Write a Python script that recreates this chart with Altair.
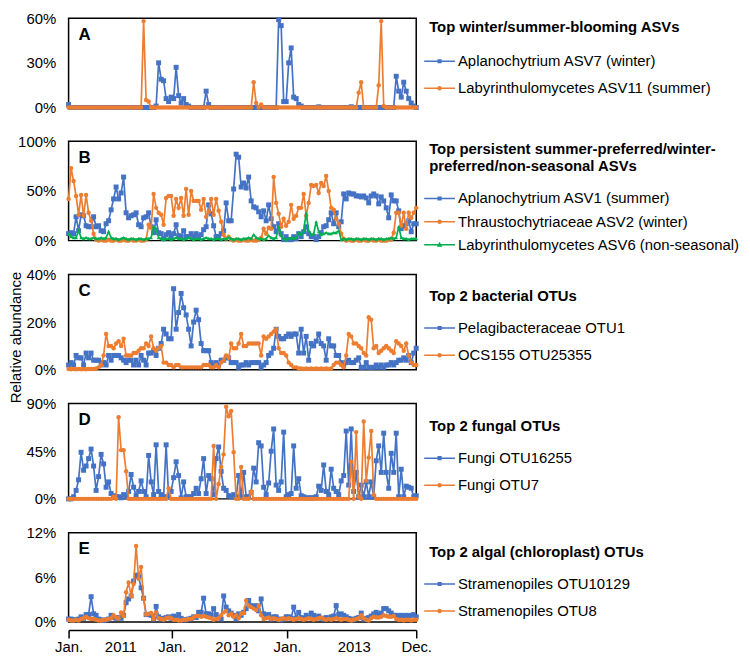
import altair as alt
import pandas as pd

FONT = "Liberation Sans"
BLUE = "#4472C4"
ORANGE = "#ED7D31"
GREEN = "#00B050"
N = 140

# x axis (sample sequence, Jan 2011 - Dec 2013)
x_tick_pos = [0, 20.7, 41.3, 65.1, 87.4, 114, 139]
x_tick_lab = ["Jan.", "2011", "Jan.", "2012", "Jan.", "2013", "Dec."]
x_boundary_pos = [0, 41.3, 87.4, 139]

# ---------------- Panel A ----------------
A_names = ["Aplanochytrium ASV7 (winter)", "Labyrinthulomycetes ASV11 (summer)"]
A_asv7 = [
    2, 0, 0, 0, 0, 0, 0, 0, 0, 0,
    0, 0, 0, 0, 0, 0, 0, 0, 0, 0,
    0, 0, 0, 0, 0, 0, 0, 0, 0, 0,
    0, 0, 0, 0, 0, 1, 30, 19, 18, 6,
    4, 7, 6, 27, 8, 3, 6, 2, 1, 0,
    0, 0, 0, 0, 0, 11, 2, 0, 0, 0,
    0, 0, 0, 0, 0, 0, 0, 0, 0, 0,
    0, 0, 0, 0, 0, 0, 0, 0, 0, 0,
    0, 0, 0, 0, 59, 55, 4, 4, 30, 40,
    7, 6, 2, 1, 0, 0, 0, 0, 0, 0,
    0.5, 0, 0, 0, 0, 0, 0, 0, 0, 0,
    0, 0, 0, 0.5, 0, 0, 0, 0, 0, 0,
    0, 0, 0, 0, 0, 0, 0, 0, 0, 0,
    0, 21, 11, 7, 17, 11, 6, 3, 1, 0,
]
A_asv11 = [
    0, 0, 0, 0, 0, 0, 0, 0, 0, 0,
    0, 0, 0, 0, 0, 0, 0, 0, 0, 0,
    0, 0, 0, 0, 0, 0, 0, 0, 0, 0,
    58, 5, 4, 0, 0, 0, 0, 0, 0, 0,
    0, 0, 0, 0, 0, 0, 0, 0, 0, 0,
    0, 0, 0, 0, 0, 0, 0, 0, 0, 0,
    0, 0, 0, 0, 0, 0, 0, 0, 0, 0,
    0, 0, 0, 0, 17, 3, 0, 2, 0, 0,
    0, 0, 0, 0, 0, 0, 0, 0, 0, 0,
    0, 0, 0, 0, 0, 0, 0, 0, 0, 0,
    0, 0, 0, 0, 0, 0, 0, 0, 0, 0,
    0, 0, 0, 0, 0, 0, 10, 17, 0, 0,
    0, 0, 0, 0, 15, 58, 1, 0, 0, 0,
    0, 0, 0, 0, 0, 0, 0, 0, 0, 0,
]

# ---------------- Panel B ----------------
B_names = ["Aplanochytrium ASV1 (summer)", "Thraustochytriaceae ASV2 (winter)",
           "Labyrinthulomycetes ASV6 (non-seasonal)"]
B_asv1 = [
    7, 8, 7, 24, 10, 26, 25, 15, 14, 14,
    24, 14, 15, 10, 9, 17, 20, 31, 42, 54,
    42, 48, 64, 28, 23, 25, 26, 28, 16, 14,
    23, 24, 28, 14, 8, 21, 8, 7, 2, 6,
    8, 4, 7, 16, 5, 4, 10, 4, 4, 7,
    4, 7, 4, 6, 11, 14, 36, 27, 15, 4,
    4, 7, 10, 38, 20, 20, 52, 87, 84, 54,
    58, 53, 64, 40, 34, 33, 29, 24, 30, 20,
    36, 22, 14, 9, 17, 7, 1, 4, 1, 1,
    4, 2, 7, 4, 9, 14, 7, 4, 4, 1,
    4, 8, 14, 15, 21, 28, 17, 28, 14, 19,
    47, 42, 48, 47, 47, 45, 45, 44, 45, 43,
    38, 45, 47, 45, 37, 44, 40, 33, 23, 46,
    40, 40, 30, 12, 15, 17, 20, 9, 17, 17,
]
B_asv2 = [
    42, 73, 60, 45, 26, 46, 25, 46, 28, 20,
    7, 1, 0, 1, 0, 0, 1, 0, 0, 1,
    0, 0, 1, 0, 0, 1, 0, 0, 1, 0,
    0, 1, 16, 13, 47, 33, 28, 26, 16, 43,
    45, 45, 25, 42, 33, 43, 25, 52, 26, 50,
    40, 40, 40, 31, 42, 24, 29, 42, 26, 42,
    30, 19, 6, 2, 4, 1, 0, 1, 0, 0,
    1, 0, 0, 1, 0, 0, 1, 3, 12, 7,
    13, 12, 64, 38, 27, 14, 22, 15, 19, 36,
    22, 25, 33, 33, 47, 25, 38, 56, 55, 56,
    48, 58, 55, 65, 50, 33, 31, 22, 17, 7,
    2, 0, 1, 0, 0, 1, 0, 0, 1, 0,
    0, 1, 0, 0, 1, 0, 0, 0, 1, 1,
    8, 28, 28, 15, 28, 12, 28, 23, 28, 33,
]
B_asv6 = [
    7, 4, 3, 3, 10, 3, 2, 3, 2, 2,
    3, 2, 2, 3, 2, 3, 9, 3, 2, 2,
    1, 2, 3, 2, 1, 2, 2, 1, 2, 2,
    1, 2, 2, 3, 14, 12, 3, 2, 1, 2,
    2, 1, 2, 3, 2, 2, 1, 2, 3, 2,
    1, 2, 2, 1, 2, 3, 2, 2, 1, 2,
    2, 1, 2, 2, 3, 2, 1, 2, 2, 1,
    2, 2, 3, 2, 6, 3, 2, 2, 1, 2,
    5, 3, 2, 3, 14, 5, 2, 1, 2, 3,
    2, 3, 8, 6, 10, 28, 10, 6, 7, 19,
    9, 6, 7, 8, 7, 7, 8, 8, 10, 1,
    2, 1, 2, 2, 1, 2, 2, 1, 2, 2,
    1, 2, 2, 1, 2, 2, 1, 2, 2, 3,
    2, 3, 14, 3, 2, 2, 1, 2, 2, 2,
]

# ---------------- Panel C ----------------
C_names = ["Pelagibacteraceae OTU1", "OCS155 OTU25355"]
C_otu1 = [
    2, 3, 2, 6, 5, 5, 2, 7, 5, 7,
    4, 4, 4, 2, 3, 2, 6, 4, 6, 6,
    6, 5, 4, 3, 4, 4, 2, 4, 2, 6,
    4, 2, 7, 7, 8, 6, 9, 11, 17, 15,
    13, 13, 34, 17, 24, 32, 26, 23, 17, 10,
    20, 25, 21, 11, 8, 8, 8, 3, 2, 3,
    2, 4, 4, 5, 5, 3, 3, 3, 1, 2,
    2, 3, 2, 3, 3, 3, 3, 1, 2, 3,
    6, 7, 9, 17, 14, 13, 13, 14, 15, 14,
    15, 15, 7, 17, 7, 14, 4, 11, 10, 12,
    15, 11, 10, 4, 13, 10, 10, 6, 6, 3,
    2, 3, 4, 3, 3, 4, 5, 1, 1, 3,
    1, 1, 1, 2, 1, 2, 1, 2, 2, 3,
    2, 3, 4, 4, 5, 4, 6, 3, 7, 9,
]
C_otu25355 = [
    0.3, 0.2, 0.3, 0.2, 0.3, 0.2, 0.3, 0.2, 0.3, 0.3,
    0.3, 0.5, 1, 2, 6, 15, 10, 10, 9, 11,
    12, 10, 13, 6, 6, 6, 7, 7, 8, 9,
    9, 11, 10, 14, 9, 8, 9, 10, 3, 3,
    2, 2, 1, 2, 2, 1, 1, 1, 1, 1,
    1, 1, 1, 1, 2, 2, 2, 1, 1, 2,
    1, 3, 4, 6, 5, 11, 9, 9, 11, 15,
    10, 10, 11, 11, 11, 11, 11, 6, 14, 13,
    14, 15, 16, 17, 9, 7, 7, 6, 3, 2,
    1, 1, 0.5, 0.5, 0.3, 0.5, 0.3, 0.5, 0.3, 0.5,
    0.3, 0.5, 0.3, 0.5, 0.3, 0.5, 2, 3, 3, 2,
    1, 6, 15, 14, 11, 11, 10, 9, 7, 6,
    22, 21, 9, 10, 7, 8, 9, 10, 9, 8,
    7, 12, 11, 10, 8, 11, 6, 3, 2, 2,
]

# ---------------- Panel D ----------------
D_names = ["Fungi OTU16255", "Fungi OTU7"]
D_otu16255 = [
    0, 0, 2, 8, 18, 44, 27, 31, 38, 47,
    31, 8, 21, 42, 33, 11, 16, 5, 3, 2,
    2, 1, 4, 2, 7, 23, 11, 3, 7, 17,
    7, 2, 41, 16, 4, 51, 7, 4, 2, 51,
    2, 7, 20, 35, 22, 1, 16, 2, 2, 2,
    5, 10, 5, 19, 38, 5, 22, 19, 4, 38,
    49, 26, 10, 8, 3, 2, 4, 2, 22, 2,
    25, 2, 2, 6, 29, 16, 53, 50, 11, 4,
    15, 45, 66, 13, 8, 16, 63, 2, 4, 5,
    50, 10, 19, 3, 2, 1, 1, 1, 1, 2,
    12, 8, 32, 7, 4, 28, 10, 7, 4, 17,
    22, 64, 13, 66, 7, 25, 2, 13, 2, 16,
    2, 16, 2, 36, 50, 25, 62, 25, 10, 43,
    25, 62, 2, 28, 2, 12, 11, 10, 2, 3,
]
D_otu7 = [
    0, 0, 0, 0, 0, 0, 0, 0, 0, 0,
    0, 0, 0, 0, 0, 0, 0, 0, 2, 0,
    77, 46, 46, 26, 0, 0, 0, 0, 0, 0,
    0, 0, 0, 0, 0, 0, 0, 0, 0, 0,
    10, 0, 0, 0, 0, 0, 0, 0, 0, 0,
    0, 0, 0, 0, 0, 0, 0, 0, 50, 0,
    14, 30, 42, 87, 78, 83, 44, 0, 0, 30,
    0, 0, 0, 7, 0, 0, 0, 0, 0, 0,
    0, 0, 0, 0, 0, 0, 0, 0, 0, 0,
    0, 0, 0, 0, 0, 0, 0, 0, 0, 0,
    0, 0, 0, 0, 0, 0, 0, 0, 0, 0,
    0, 0, 0, 35, 0, 63, 2, 0, 73, 17,
    39, 64, 4, 0, 0, 0, 0, 0, 0, 0,
    0, 0, 0, 0, 0, 0, 0, 0, 0, 0,
]

# ---------------- Panel E ----------------
E_names = ["Stramenopiles OTU10129", "Stramenopiles OTU8"]
E_otu10129 = [
    0.4, 0.4, 0.3, 0.3, 0.4, 0.7, 0.5, 1.0, 1.0, 3.4,
    1.1, 0.9, 0.4, 0.3, 0.2, 0.3, 0.4, 0.9, 0.6, 0.5,
    0.6, 0.5, 0.9, 2.6, 3.1, 3.5, 5.5, 6.3, 6.1, 4.6,
    3.2, 1.0, 1.0, 0.9, 0.4, 2.1, 0.7, 0.4, 0.5, 0.6,
    0.7, 0.5, 0.8, 0.6, 1.0, 0.5, 0.3, 0.3, 0.4, 0.5,
    0.7, 0.6, 1.3, 1.3, 3.2, 1.1, 1.1, 0.9, 1.8, 1.0,
    0.6, 0.4, 3.5, 2.0, 1.5, 1.2, 0.9, 0.4, 1.1, 0.9,
    1.3, 1.8, 2.9, 2.2, 2.1, 2.2, 1.5, 3.1, 1.1, 0.9,
    1.0, 0.4, 0.7, 0.7, 0.4, 0.3, 0.4, 0.7, 0.7, 0.5,
    2.0, 0.5, 1.3, 0.6, 0.5, 0.9, 0.6, 1.2, 0.9, 0.6,
    0.8, 0.5, 0.4, 0.6, 0.5, 0.7, 0.8, 2.2, 1.0, 1.1,
    0.9, 0.7, 0.5, 0.4, 0.3, 0.5, 0.6, 1.2, 0.4, 0.5,
    0.6, 0.8, 1.1, 1.3, 1.0, 1.2, 1.8, 1.8, 1.5, 1.2,
    0.9, 0.9, 0.8, 0.9, 0.8, 0.9, 0.8, 0.9, 1.0, 0.7,
]
E_otu8 = [
    0.3, 0.2, 0.2, 0.3, 0.2, 0.4, 0.5, 0.7, 0.5, 0.4,
    0.4, 0.3, 0.2, 0.2, 0.3, 0.3, 0.4, 0.5, 0.9, 0.6,
    0.5, 1.3, 0.8, 4.0, 5.3, 3.5, 5.1, 10.2, 5.8, 7.4,
    3.2, 1.0, 1.1, 1.2, 0.4, 1.3, 0.5, 0.4, 0.3, 0.5,
    0.6, 0.5, 0.3, 0.3, 0.2, 0.2, 0.3, 0.3, 0.4, 0.4,
    0.6, 0.8, 0.8, 0.7, 0.8, 0.7, 0.6, 0.5, 0.3, 0.4,
    0.5, 0.9, 1.3, 1.5, 0.9, 1.1, 0.7, 0.9, 0.5, 1.1,
    1.2, 2.9, 2.2, 2.0, 1.8, 1.6, 2.2, 0.9, 0.4, 0.5,
    0.6, 0.4, 0.5, 0.4, 0.3, 0.4, 0.5, 0.4, 0.5, 0.4,
    0.3, 0.4, 0.5, 0.4, 0.3, 0.4, 0.5, 0.4, 0.3, 0.4,
    0.5, 0.6, 0.4, 0.3, 0.4, 0.3, 0.4, 0.5, 0.4, 0.3,
    0.4, 0.4, 0.3, 0.2, 0.3, 0.4, 0.5, 0.9, 0.5, 0.3,
    0.2, 0.5, 0.7, 0.6, 0.6, 0.7, 0.9, 0.8, 0.7, 0.7,
    0.8, 0.4, 0.3, 0.3, 0.2, 0.3, 0.3, 0.2, 0.3, 0.3,
]

# legend symbols: line with a small marker in the middle
SYM_SQUARE = "M-1.63,0H1.63M-0.14,-0.14H0.14V0.14H-0.14Z"
SYM_CIRCLE = "M-1.63,0H1.63M-0.16,0A0.16,0.16,0,1,1,0.16,0A0.16,0.16,0,1,1,-0.16,0Z"
SYM_TRI = "M-1.63,0H1.63M0,-0.17L0.16,0.12L-0.16,0.12Z"


def panel(letter, title, names, series, colors, markers, msizes, syms,
          ymax, yticks, height, legend_y, row_pad, title_pad,
          bottom_axis=False, ytitle=None):
    for nm, vals in zip(names, series):
        if len(vals) != N:
            raise ValueError(f"{nm}: {len(vals)} values")
    df = pd.DataFrame({
        "idx": [i for vals in series for i in range(len(vals))],
        "v": [v for vals in series for v in vals],
        "s": [nm for nm, vals in zip(names, series) for _ in vals],
    })
    if bottom_axis:
        lab_expr = ("[" + ",".join(f"'{t}'" for t in x_tick_lab) + "][indexof(["
                    + ",".join(str(p) for p in x_tick_pos) + "], datum.value)]")
        tick_test = "indexof([" + ",".join(str(p) for p in x_boundary_pos) + "], datum.value) >= 0"
        xaxis = alt.Axis(values=x_tick_pos, labelExpr=lab_expr, offset=8, tickSize=8,
                         tickWidth=1.5, tickColor="black",
                         tickOpacity={"condition": {"test": tick_test, "value": 1}, "value": 0},
                         domain=True, domainColor="black", domainWidth=1.5,
                         labelFontSize=15, labelColor="black", labelFont=FONT, labelPadding=2,
                         labelFlush=False, labelOverlap=False, labelBound=False, grid=False)
    else:
        xaxis = None
    X = alt.X("idx:Q", scale=alt.Scale(domain=[0, N - 1], nice=False, zero=False),
              axis=xaxis, title=None)
    yax = dict(values=yticks, labelExpr="datum.value + '%'", grid=False, ticks=False,
               domain=False, labelFontSize=15, labelPadding=13, labelColor="black",
               labelFont=FONT)
    if ytitle:
        yax.update(title=ytitle, titleFontSize=15, titleFontWeight="normal", titleFont=FONT,
                   titleColor="black", titleX=-45, titleY=63)
    Y = alt.Y("v:Q", scale=alt.Scale(domain=[0, ymax], nice=False, zero=True),
              axis=alt.Axis(**yax), title=ytitle if ytitle else None)

    leg = alt.Legend(title=title, orient="none", legendX=363, legendY=legend_y,
                     direction="vertical", padding=0,
                     titleFontSize=15, titleFont=FONT, titleFontWeight="bold", titleColor="black",
                     titleLimit=500, titleLineHeight=17.6, titlePadding=title_pad,
                     labelFontSize=15, labelFont=FONT, labelColor="black", labelLimit=500,
                     labelOffset=8, symbolSize=361, symbolStrokeWidth=1.5, rowPadding=row_pad)

    legend_layer = alt.Chart(df).transform_filter("datum.idx < 0").mark_point(
        filled=True, opacity=1, strokeWidth=1.5
    ).encode(
        x=X, y=Y,
        color=alt.Color("s:N", scale=alt.Scale(domain=names, range=colors), legend=leg),
        stroke=alt.Stroke("s:N", scale=alt.Scale(domain=names, range=colors), legend=leg),
        shape=alt.Shape("s:N", scale=alt.Scale(domain=names, range=syms), legend=leg),
    )
    layers = [legend_layer]
    for nm, col, mk, ms in zip(names, colors, markers, msizes):
        base = alt.Chart(df).transform_filter(alt.datum.s == nm)
        layers.append(base.mark_line(color=col, strokeWidth=1.7).encode(x=X, y=Y))
        layers.append(base.mark_point(color=col, shape=mk, filled=True, size=ms,
                                      opacity=1).encode(x=X, y=Y))
    letter_layer = alt.Chart(pd.DataFrame({"t": [letter]})).mark_text(
        align="left", baseline="alphabetic", fontSize=17, fontWeight="bold",
        font=FONT, color="black"
    ).encode(text="t:N", x=alt.value(10), y=alt.value(22))
    layers.append(letter_layer)
    return alt.layer(*layers).properties(width=350, height=height).resolve_scale(
        color="independent", stroke="independent", shape="independent")


pA = panel("A", "Top winter/summer-blooming ASVs", A_names, [A_asv7, A_asv11],
           [BLUE, ORANGE], ["square", "circle"], [25, 20], [SYM_SQUARE, SYM_CIRCLE],
           60, [0, 30, 60], 90, 1.9, 8.3, 16)
pB = panel("B", ["Top persistent summer-preferred/winter-", "preferred/non-seasonal ASVs"],
           B_names, [B_asv1, B_asv2, B_asv6],
           [BLUE, ORANGE, GREEN], ["square", "circle", "triangle-up"], [25, 20, 14],
           [SYM_SQUARE, SYM_CIRCLE, SYM_TRI],
           100, [0, 50, 100], 100, 0.5, 4.3, 14)
pC = panel("C", "Top 2 bacterial OTUs", C_names, [C_otu1, C_otu25355],
           [BLUE, ORANGE], ["square", "circle"], [25, 20], [SYM_SQUARE, SYM_CIRCLE],
           40, [0, 20, 40], 96, 14.5, 8.3, 14, ytitle="Relative abundance")
pD = panel("D", "Top 2 fungal OTUs", D_names, [D_otu16255, D_otu7],
           [BLUE, ORANGE], ["square", "circle"], [25, 20], [SYM_SQUARE, SYM_CIRCLE],
           90, [0, 45, 90], 96, 15.5, 8.3, 14)
pE = panel("E", "Top 2 algal (chloroplast) OTUs", E_names, [E_otu10129, E_otu8],
           [BLUE, ORANGE], ["square", "circle"], [25, 20], [SYM_SQUARE, SYM_CIRCLE],
           12, [0, 6, 12], 90, 12.2, 8.3, 14, bottom_axis=True)

chart = alt.vconcat(pA, pB, pC, pD, pE, spacing=34, bounds="flush", padding=0).resolve_scale(
    color="independent", stroke="independent", shape="independent"
).resolve_legend(
    color="independent", stroke="independent", shape="independent"
).configure(font=FONT).configure_view(stroke="black", strokeWidth=1.5)

chart.save("out.html", embed_options={"renderer": "svg", "actions": False})
